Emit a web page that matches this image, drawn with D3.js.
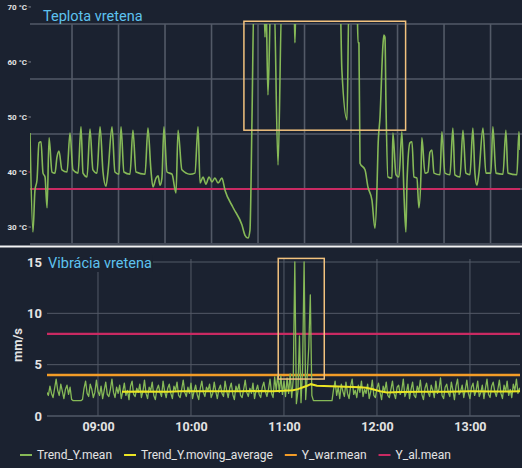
<!DOCTYPE html>
<html><head><meta charset="utf-8">
<script src="https://cdn.jsdelivr.net/npm/d3@7"></script>
<style>
html,body{margin:0;padding:0;background:#1b2230;overflow:hidden;}
svg{display:block;font-family:Roboto,"Noto Sans",sans-serif;}
</style></head><body>
<svg id="c" width="522" height="468"></svg>
<script>
// ---------------- data ----------------
const topTitle = "Teplota vretena";
const bottomTitle = "Vibrácia vretena";
const tempTicks = [30, 40, 50, 60, 70];
// minutes after 08:00 and spindle temperature (°C)
const tempMinutes = [2.9,4.8,6.1,7.4,8.7,10.0,11.3,12.6,13.9,15.2,17.1,19.0,20.3,21.6,23.5,26.8,28.7,30.6,33.9,35.8,37.1,39.7,41.6,43.5,46.1,48.1,50.0,51.9,53.2,55.8,57.7,60.3,61.6,63.5,67.4,69.3,71.3,77.1,79.0,80.9,82.2,84.2,85.5,86.8,88.0,89.3,91.3,94.5,97.1,98.4,100.9,106.1,109.3,111.3,112.6,114.5,116.4,118.4,120.3,122.2,124.2,126.7,128.7,133.8,139.6,141.6,143.5,144.8,146.1,147.4,153.8,154.5,155.1,156.4,158.3,160.3,162.9,165.4,173.2,173.8,174.5,202.9,204.1,207.4,208.7,213.8,214.5,215.1,215.8,219.0,220.9,223.5,225.4,226.7,227.4,228.7,230.6,231.2,231.9,232.5,233.8,236.4,237.0,239.0,240.9,242.8,244.1,245.4,246.1,248.0,249.3,250.6,252.5,253.8,255.1,255.7,257.7,259.6,260.9,262.2,263.5,267.4,268.6,270.6,273.8,275.7,277.0,280.3,282.2,284.1,286.7,288.6,289.9,291.2,292.5,295.1,297.0,300.2,301.5,303.5,308.0,309.9,311.2,317.0,318.3,319.0];
const tempValues = [47.1,29.1,36.7,38.5,45.3,45.5,39.8,39.1,33.5,46.2,40.0,39.8,42.7,43.8,40.4,40.0,47.1,40.4,39.8,48.2,39.8,39.1,47.8,40.4,39.8,48.2,40.0,37.4,40.0,48.2,40.0,39.6,48.2,40.0,39.6,47.6,40.0,39.6,48.0,40.4,37.3,38.9,39.3,37.6,38.9,48.2,40.0,39.6,36.2,47.6,40.4,39.6,39.8,48.2,38.0,39.1,37.8,39.1,38.2,38.9,38.0,38.9,36.7,33.6,30.4,28.5,28.0,29.4,49.5,72,72,64.5,72,54.0,72,72,41.3,72,72,63.5,72,72,58.5,49.5,72,72,63.5,63.5,41.6,40.4,37.3,34.9,29.8,36.7,44.4,50.0,63.1,64.9,64.5,53.1,39.1,38.9,47.1,39.5,39.1,47.3,36.4,29.1,38.2,45.3,45.5,39.1,38.9,33.5,39.5,46.2,39.8,40.0,43.6,44.0,39.8,39.5,47.3,39.8,39.5,48.0,39.5,39.1,47.6,39.8,39.5,48.0,39.8,37.6,39.8,48.0,39.8,39.8,48.2,39.8,39.6,47.6,39.8,39.5,47.3,44.0];
const tempAlarm = 36.9;
const tempBoxMinutes = [140.9, 245.2];
const tempBoxRange = [47.6, 67.4];

const vibTicks = [0, 5, 10, 15];
const vibStartMinute = 27; // first sample 08:27, one sample per minute
const vibValues = [
2.3,2.0,2.9,2.2,1.8,2.7,3.6,2.5,2.0,3.1,
2.4,1.7,2.6,3.0,2.1,2.8,1.6,1.5,1.5,1.5,
1.5,1.5,1.5,1.6,2.7,3.4,2.2,1.9,3.1,2.6,
1.8,2.3,3.5,2.4,2.0,2.9,1.7,2.5,3.3,2.1,
1.9,2.6,3.6,2.3,1.8,2.8,2.2,3.0,1.7,2.4,
3.2,2.0,2.5,1.6,2.9,3.4,2.1,1.9,2.7,2.3,
3.1,1.8,2.4,3.5,2.2,1.7,2.8,2.5,3.3,2.0,
1.6,2.6,3.0,2.3,1.9,3.4,2.4,1.8,2.7,3.1,
2.2,1.7,2.9,2.5,3.3,2.0,1.8,2.6,3.5,2.3,
1.9,2.8,2.2,3.2,1.7,2.4,3.0,2.1,1.6,2.7,
3.4,2.3,1.9,2.8,2.5,3.1,1.8,2.2,3.3,2.4,
1.7,2.6,3.0,2.2,1.9,3.4,2.5,1.8,2.7,3.2,
2.1,1.6,2.9,2.4,3.1,2.0,1.8,2.6,3.5,2.3,
1.9,2.7,2.2,3.2,1.7,2.5,3.0,2.1,1.8,2.8,
3.3,2.4,1.9,2.6,3.6,2.2,1.8,3.8,2.5,4.0,
2.3,3.9,2.1,3.4,1.9,3.7,2.2,4.1,1.8,3.6,
15.0,1.2,2.4,7.8,1.3,4.6,15.0,1.6,3.9,6.7,
11.8,2.0,1.5,1.5,1.5,1.5,1.5,1.5,1.5,1.5,
1.5,1.5,1.5,1.5,1.5,2.6,3.4,2.0,2.8,1.7,
3.1,2.4,1.9,3.3,2.2,1.7,2.9,3.6,2.1,2.5,
1.8,3.0,2.3,3.4,1.9,2.6,2.2,3.1,1.7,2.4,
3.5,2.0,1.8,2.7,3.2,2.3,1.6,2.9,2.4,3.3,
2.0,1.8,2.6,3.4,2.2,1.7,2.8,3.0,2.1,2.5,
3.6,1.9,2.3,3.1,1.7,2.6,3.3,2.0,1.8,2.9,
2.4,3.5,2.1,1.6,2.7,3.2,2.3,1.9,3.0,2.5,
1.8,3.4,2.2,2.6,3.7,2.0,1.7,2.8,3.1,2.3,
1.9,3.3,2.5,1.6,2.9,3.6,2.1,2.4,3.0,1.8,
2.6,3.5,2.2,1.7,2.8,3.2,2.0,2.5,3.4,1.9,
2.3,3.0,1.7,2.7,3.6,2.1,1.8,2.9,3.3,2.4,
1.9,2.6,3.5,2.2,1.7,3.0,2.4,3.4,2.0,2.6,
1.8,3.1,2.5,3.6,2.2,2.7,2.3];
const vibAvgMinutes = [75.5,90,105,112.9,130,151.6,165,172.9,180,185.8,189,192.3,195,197.4,201.3,215,229,233,237.4,242,246.5,255,267.7,285,300,315,333];
const vibAvgValues  = [2.35,2.38,2.36,2.4,2.42,2.4,2.43,2.42,2.45,2.5,2.62,2.8,2.95,3.1,2.95,2.88,2.8,2.75,2.6,2.42,2.3,2.33,2.35,2.37,2.4,2.38,2.4];
const vibWarning = 4.0;
const vibAlarm = 8.0;
const vibBoxMinutes = [176.3, 206.0];
const vibBoxRange = [3.6, 15.35];
const legendLabels = ["Trend_Y.mean", "Trend_Y.moving_average", "Y_war.mean", "Y_al.mean"];

// ---------------- style ----------------
const C = {
  bg: "#1b2230", grid: "#535a67", text: "#e4e4e4", title: "#5ec2ef",
  green: "#86b957", yellow: "#ece524", orange: "#f39c27", pink: "#c92a62", box: "#f2c27e"
};
const legendColors = [C.green, C.yellow, C.orange, C.pink];

const base = new Date(2024, 0, 15, 8, 0, 0);
const at = m => new Date(base.getTime() + m * 60000);

const svg = d3.select("#c");
svg.append("rect").attr("width", 522).attr("height", 468).attr("fill", C.bg);

// ---------------- top panel ----------------
const xTop = d3.scaleTime().domain([at(2.9), at(319)]).range([30, 520]);
const yTop = d3.scaleLinear().domain([27.1, 66.9]).range([243, 24]);
const gridShift = 17;

const gTop = svg.append("g");
gTop.selectAll(".hg").data(tempTicks).join("line")
  .attr("x1", 30).attr("x2", 522)
  .attr("y1", d => yTop(d) + gridShift).attr("y2", d => yTop(d) + gridShift)
  .attr("stroke", C.grid).attr("stroke-width", 1.6);
gTop.selectAll(".vg").data(d3.timeMinute.every(30).range(at(2.9), at(319)))
  .join("line")
  .attr("x1", d => xTop(d)).attr("x2", d => xTop(d))
  .attr("y1", yTop.range()[1]).attr("y2", yTop.range()[0])
  .attr("stroke", C.grid).attr("stroke-width", 1.6);

// y labels
gTop.selectAll(".yl").data(tempTicks).join("text")
  .attr("x", 27).attr("y", d => yTop(d)).attr("dy", "0.35em")
  .attr("text-anchor", "end").attr("font-size", 8).attr("font-weight", "bold")
  .attr("fill", C.text).text(d => d + " °C");
gTop.selectAll(".yt").data(tempTicks).join("line")
  .attr("x1", 28.5).attr("x2", 31).attr("y1", d => yTop(d)).attr("y2", d => yTop(d))
  .attr("stroke", d => d === 40 ? C.pink : "#777e8a").attr("stroke-width", 1);

svg.append("clipPath").attr("id", "clipTop").append("rect")
  .attr("x", 30).attr("y", 24).attr("width", 490).attr("height", 219);
const topData = tempMinutes.map((m, i) => ({ d: at(m), v: tempValues[i] }));
const gTopData = gTop.append("g").attr("clip-path", "url(#clipTop)");
gTopData.append("line")
  .attr("x1", 30).attr("x2", 520).attr("y1", yTop(tempAlarm)).attr("y2", yTop(tempAlarm))
  .attr("stroke", C.pink).attr("stroke-width", 2);
gTopData.append("path").datum(topData)
  .attr("fill", "none").attr("stroke", C.green).attr("stroke-width", 1.6)
  .attr("stroke-linejoin", "round")
  .attr("d", d3.line().curve(d3.curveMonotoneX).x(d => xTop(d.d)).y(d => yTop(d.v)));

gTop.append("rect")
  .attr("x", xTop(at(tempBoxMinutes[0]))).attr("y", yTop(tempBoxRange[1]))
  .attr("width", xTop(at(tempBoxMinutes[1])) - xTop(at(tempBoxMinutes[0])))
  .attr("height", yTop(tempBoxRange[0]) - yTop(tempBoxRange[1]))
  .attr("fill", "none").attr("stroke", C.box).attr("stroke-width", 1.5);

gTop.append("text").attr("x", 43).attr("y", 21)
  .attr("font-size", 14.5).attr("fill", C.title).text(topTitle);

// separator
svg.append("rect").attr("x", 0).attr("y", 245.5).attr("width", 522).attr("height", 2).attr("fill", "#f4f4f4");

// ---------------- bottom panel ----------------
const xBot = d3.scaleTime().domain([at(27.1), at(332.3)]).range([47, 520]);
const yBot = d3.scaleLinear().domain([0, 15]).range([416, 262]);
const gBot = svg.append("g");

gBot.selectAll(".hg").data(vibTicks).join("line")
  .attr("x1", 47).attr("x2", 520).attr("y1", d => yBot(d)).attr("y2", d => yBot(d))
  .attr("stroke", d => d === 0 ? "#6d7482" : C.grid).attr("stroke-width", 1);
const hours = d3.timeHour.every(1).range(at(27.1), at(332.3));
gBot.selectAll(".vg").data(hours).join("line")
  .attr("x1", d => xBot(d)).attr("x2", d => xBot(d)).attr("y1", 259).attr("y2", 416)
  .attr("stroke", C.grid).attr("stroke-width", 1);

const xAxis = gBot.append("g").attr("transform", "translate(0,416)")
  .call(d3.axisBottom(xBot).tickValues(hours).tickFormat(d3.timeFormat("%H:%M")).tickSize(0).tickPadding(6));
xAxis.select(".domain").remove();
xAxis.selectAll("text").attr("font-size", 12.5).attr("font-weight", "bold").attr("fill", C.text)
  .attr("font-family", "Roboto, sans-serif");

const yAxis = gBot.append("g").attr("transform", "translate(47,0)")
  .call(d3.axisLeft(yBot).tickValues(vibTicks).tickSize(0).tickPadding(5));
yAxis.select(".domain").remove();
yAxis.selectAll("text").attr("font-size", 13).attr("font-weight", "bold").attr("fill", C.text)
  .attr("font-family", "Roboto, sans-serif");

gBot.append("text").attr("transform", "translate(17,345) rotate(-90)")
  .attr("text-anchor", "middle").attr("dy", "0.35em")
  .attr("font-size", 13).attr("font-weight", "bold").attr("fill", C.text).text("mm/s");

svg.append("clipPath").attr("id", "clipBot").append("rect")
  .attr("x", 47).attr("y", 258).attr("width", 473).attr("height", 162);
const gBotData = gBot.append("g").attr("clip-path", "url(#clipBot)");
[[vibAlarm, C.pink], [vibWarning, C.orange]].forEach(([v, c]) => {
  gBotData.append("line").attr("x1", 47).attr("x2", 520).attr("y1", yBot(v)).attr("y2", yBot(v))
    .attr("stroke", c).attr("stroke-width", 2.4);
});
const vibData = vibValues.map((v, i) => ({ d: at(vibStartMinute + i), v }));
gBotData.append("path").datum(vibData)
  .attr("fill", "none").attr("stroke", C.green).attr("stroke-width", 1.3).attr("stroke-linejoin", "round")
  .attr("d", d3.line().x(d => xBot(d.d)).y(d => yBot(d.v)));
const avgData = vibAvgMinutes.map((m, i) => ({ d: at(m), v: vibAvgValues[i] }));
gBotData.append("path").datum(avgData)
  .attr("fill", "none").attr("stroke", C.yellow).attr("stroke-width", 2)
  .attr("d", d3.line().x(d => xBot(d.d)).y(d => yBot(d.v)));

gBot.append("rect")
  .attr("x", xBot(at(vibBoxMinutes[0]))).attr("y", yBot(vibBoxRange[1]))
  .attr("width", xBot(at(vibBoxMinutes[1])) - xBot(at(vibBoxMinutes[0])))
  .attr("height", yBot(vibBoxRange[0]) - yBot(vibBoxRange[1]))
  .attr("fill", "none").attr("stroke", C.box).attr("stroke-width", 1.5);

const titleBg = gBot.append("rect").attr("fill", C.bg);
const bt = gBot.append("text").attr("x", 48).attr("y", 268)
  .attr("font-size", 14.5).attr("fill", C.title).text(bottomTitle);
const bb = bt.node().getBBox();
titleBg.attr("x", bb.x - 1).attr("y", bb.y).attr("width", bb.width + 2).attr("height", bb.height);

// ---------------- legend ----------------
const leg = svg.append("g").attr("transform", "translate(20,455)");
let lx = 0;
legendLabels.forEach((lab, i) => {
  leg.append("line").attr("x1", lx).attr("x2", lx + 12).attr("y1", 0).attr("y2", 0)
    .attr("stroke", legendColors[i]).attr("stroke-width", 2);
  const t = leg.append("text").attr("x", lx + 17).attr("y", 0).attr("dy", "0.35em")
    .attr("font-size", 12).attr("fill", C.text).text(lab);
  lx += 17 + t.node().getComputedTextLength() + 12;
});
</script>
</body></html>
